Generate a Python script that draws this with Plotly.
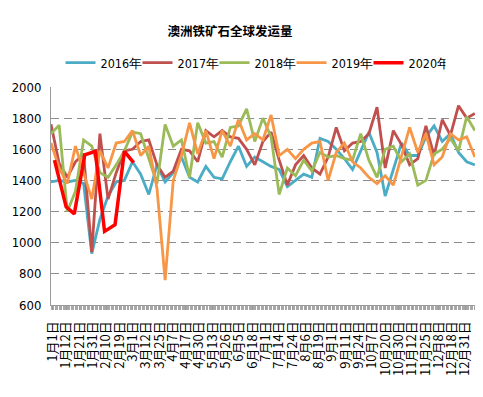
import plotly.graph_objects as go

# ---------------- data ----------------
tick_labels = ["1月1日", "1月12日", "1月21日", "1月31日", "2月10日", "2月19日", "3月1日",
               "3月12日", "3月25日", "4月7日", "4月17日", "4月30日", "5月13日", "5月26日",
               "6月5日", "6月18日", "7月1日", "7月14日", "7月24日", "8月6日", "8月19日",
               "9月1日", "9月11日", "9月24日", "10月7日", "10月20日", "10月30日", "11月12日",
               "11月25日", "12月8日", "12月18日", "12月31日"]

# day-of-year of weekly observations (2016-2019)
weekly_days = list(range(0, 365, 7))
# day-of-year of 2020 observations
days_2020 = [3, 13, 20, 29, 38, 46, 55, 63, 71]

y2016 = [1390, 1400, 1390, 1400, 1380, 930, 1150, 1300, 1390, 1400, 1520, 1440, 1310, 1500,
         1390, 1450, 1550, 1420, 1390, 1490, 1420, 1410, 1520, 1620, 1490, 1550, 1520, 1490,
         1470, 1360, 1400, 1440, 1420, 1670, 1650, 1600, 1540, 1470, 1590, 1710, 1580, 1300,
         1470, 1640, 1560, 1560, 1680, 1750, 1650, 1700, 1580, 1520, 1500]
y2017 = [1760, 1510, 1420, 1520, 1570, 940, 1700, 1280, 1450, 1590, 1600, 1650, 1660, 1500,
         1420, 1460, 1600, 1590, 1520, 1720, 1680, 1720, 1680, 1670, 1600, 1500, 1650, 1710,
         1530, 1370, 1500, 1560, 1480, 1440, 1550, 1740, 1590, 1640, 1650, 1700, 1870, 1480,
         1720, 1630, 1500, 1540, 1750, 1560, 1790, 1690, 1880, 1800, 1830]
y2018 = [1700, 1755, 1200, 1330, 1660, 1620, 1450, 1420, 1500, 1590, 1710, 1700, 1540, 1380,
         1760, 1620, 1660, 1420, 1770, 1640, 1650, 1550, 1740, 1750, 1860, 1650, 1800, 1680,
         1310, 1480, 1430, 1530, 1460, 1580, 1550, 1560, 1540, 1530, 1700, 1530, 1420, 1600,
         1620, 1520, 1570, 1370, 1400, 1570, 1600, 1670, 1590, 1810, 1720]
y2019 = [1640, 1480, 1380, 1620, 1450, 1280, 1590, 1480, 1640, 1650, 1720, 1560, 1620, 1350,
         760, 1400, 1560, 1770, 1570, 1720, 1540, 1720, 1620, 1790, 1660, 1700, 1660, 1820,
         1560, 1600, 1540, 1600, 1640, 1650, 1400, 1580, 1640, 1520, 1480, 1420, 1380, 1430,
         1370, 1560, 1740, 1580, 1700, 1500, 1550, 1700, 1660, 1680, 1550]
y2020 = [1530, 1230, 1185, 1565, 1587, 1073, 1116, 1587, 1515]

series = [
    ("2016年", weekly_days, y2016, "#4BACC6", 2.8),
    ("2017年", weekly_days, y2017, "#C0504D", 2.8),
    ("2018年", weekly_days, y2018, "#9BBB59", 2.8),
    ("2019年", weekly_days, y2019, "#F79646", 2.8),
    ("2020年", days_2020, y2020, "#FF0000", 3.5),
]

fig = go.Figure()
for name, xs, ys, color, w in series:
    fig.add_trace(go.Scatter(x=xs, y=ys, name=name, mode="lines",
                             line=dict(color=color, width=w)))

n = len(tick_labels)
tick_pos = [1.7 + j * 11.42 for j in range(n)]

cjk = "Noto Sans CJK SC, sans-serif"
narrow = "Liberation Sans Narrow, DejaVu Sans Condensed, Arial, sans-serif"

fig.update_layout(
    width=483, height=397,
    margin=dict(l=43, r=15, t=79, b=100, autoexpand=False),
    paper_bgcolor="white", plot_bgcolor="white",
    title=dict(text="<b>澳洲铁矿石全球发运量</b>", x=222 / 483, xanchor="center",
               xref="container", yref="container",
               y=1 - 24 / 397, yanchor="middle",
               font=dict(family=cjk, size=12.5, color="#000")),
    legend=dict(orientation="h", xref="container", yref="container",
                x=245 / 483, xanchor="center", y=1 - 55 / 397, yanchor="middle",
                font=dict(family=narrow, size=12.5, color="#000"),
                entrywidth=32, entrywidthmode="pixels", itemwidth=30,
                bgcolor="rgba(0,0,0,0)", tracegroupgap=0),
    showlegend=True,
)
fig.update_xaxes(
    range=[0, 365], tickmode="array", tickvals=tick_pos, ticktext=tick_labels,
    tickangle=-90, tickfont=dict(family=cjk, size=13, color="#000"),
    ticklabelstandoff=6,
    showgrid=False, zeroline=False, showline=True, linecolor="#9a9a9a", linewidth=1,
    ticks="outside", ticklen=4, tickcolor="#9a9a9a",
    minor=dict(ticks="outside", tick0=0, dtick=1.15, ticklen=4, tickcolor="#a8a8a8",
               showgrid=False),
)
fig.update_yaxes(
    range=[600, 2000], tickmode="array", tickvals=list(range(600, 2001, 200)),
    tickfont=dict(family=narrow, size=13, color="#000"),
    showgrid=True, gridcolor="#8c8c8c", gridwidth=1.3, griddash="8px,5px",
    zeroline=False, showline=True, linecolor="#9a9a9a", linewidth=1,
    ticks="", ticklabelstandoff=6,
)

fig.write_html("out.html")
